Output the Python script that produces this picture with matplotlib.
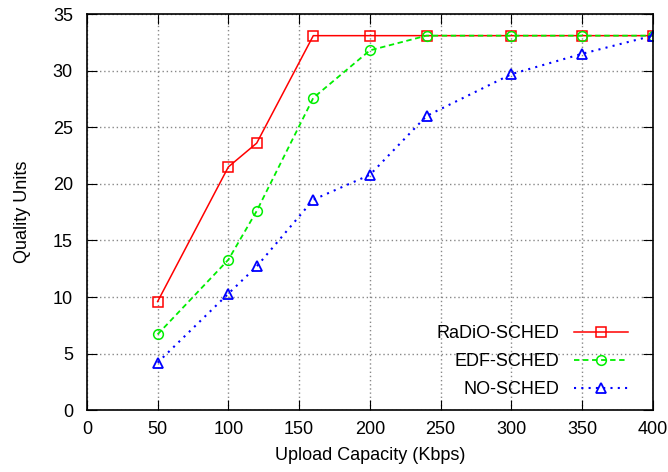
import matplotlib
matplotlib.use('Agg')
import matplotlib.pyplot as plt

plt.rcParams['font.family'] = ['Liberation Sans', 'DejaVu Sans']

capacity = [50, 100, 120, 160, 200, 240, 300, 350, 400]
radio_sched = [9.6, 21.5, 23.6, 33.1, 33.1, 33.1, 33.1, 33.1, 33.1]
edf_sched = [6.7, 13.3, 17.6, 27.6, 31.8, 33.1, 33.1, 33.1, 33.1]
no_sched = [4.2, 10.3, 12.7, 18.6, 20.8, 26.0, 29.7, 31.5, 33.1]

fig = plt.figure(figsize=(6.68, 4.72), dpi=100)
ax = fig.add_axes([0.130, 0.131, 0.8475, 0.839])

ax.plot(capacity, radio_sched, color='#ff0000', linestyle='-', linewidth=1.1,
        marker='s', markersize=7, markerfacecolor='none', markeredgewidth=1.1,
        label='RaDiO-SCHED')
ax.plot(capacity, edf_sched, color='#00ee00', linestyle=(0, (3, 2)), linewidth=1.3,
        marker='o', markersize=7, markerfacecolor='none', markeredgewidth=1.1,
        label='EDF-SCHED')
ax.plot(capacity, no_sched, color='#0000ff', linestyle=(0, (1, 2.5)), linewidth=1.5,
        marker='^', markersize=6.5, markerfacecolor='none', markeredgewidth=1.3,
        label='NO-SCHED')

ax.set_xlim(0, 400)
ax.set_ylim(0, 35)
ax.set_xticks(range(0, 401, 50))
ax.set_yticks(range(0, 36, 5))
ax.tick_params(direction='in', top=True, right=True, length=7, labelsize=13)
ax.tick_params(axis='x', pad=8)
ax.tick_params(axis='y', pad=10)
ax.grid(True, linestyle=(0, (1, 2)), color='#888888', linewidth=1)
for s in ax.spines.values():
    s.set_linewidth(1.2)

ax.set_xlabel('Upload Capacity (Kbps)', fontsize=13, labelpad=6)
ax.set_ylabel('Quality Units', fontsize=13, labelpad=16)

leg = ax.legend(loc='lower right', bbox_to_anchor=(1.0, -0.033), frameon=False,
                markerfirst=False, fontsize=13, handlelength=3.0,
                labelspacing=0.6, borderaxespad=1.0)

fig.savefig('out.png', dpi=100)
